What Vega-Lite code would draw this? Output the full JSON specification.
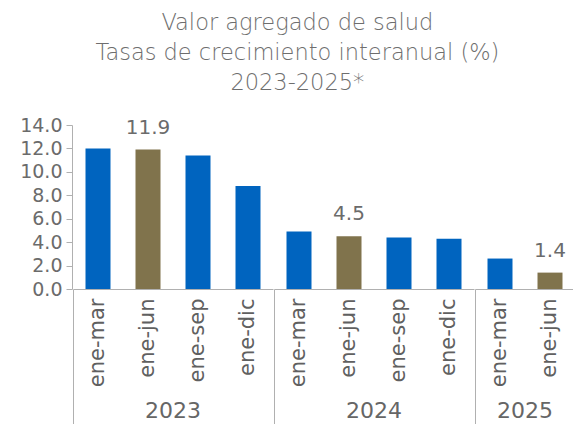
{
  "$schema": "https://vega.github.io/schema/vega-lite/v6.json",
  "padding": {"left": 19, "top": 11, "right": 0, "bottom": 0},
  "background": "white",
  "title": {
    "text": ["Valor agregado de salud", "Tasas de crecimiento interanual (%)", "2023-2025*"],
    "fontSize": 22.5,
    "fontWeight": 200,
    "color": "#6e6e6e",
    "lineHeight": 30,
    "anchor": "middle",
    "frame": "bounds",
    "offset": 22,
    "font": "DejaVu Sans"
  },
  "data": {
    "values": [
      {"year": "2023", "periodo": "ene-mar", "valor": 12.0, "tipo": "normal"},
      {"year": "2023", "periodo": "ene-jun", "valor": 11.9, "tipo": "destacado"},
      {"year": "2023", "periodo": "ene-sep", "valor": 11.4, "tipo": "normal"},
      {"year": "2023", "periodo": "ene-dic", "valor": 8.8, "tipo": "normal"},
      {"year": "2024", "periodo": "ene-mar", "valor": 4.9, "tipo": "normal"},
      {"year": "2024", "periodo": "ene-jun", "valor": 4.5, "tipo": "destacado"},
      {"year": "2024", "periodo": "ene-sep", "valor": 4.4, "tipo": "normal"},
      {"year": "2024", "periodo": "ene-dic", "valor": 4.3, "tipo": "normal"},
      {"year": "2025", "periodo": "ene-mar", "valor": 2.6, "tipo": "normal"},
      {"year": "2025", "periodo": "ene-jun", "valor": 1.4, "tipo": "destacado"}
    ]
  },
  "facet": {
    "column": {
      "field": "year",
      "type": "ordinal",
      "header": {
        "title": null,
        "labelOrient": "bottom",
        "labelFontSize": 22,
        "labelColor": "#666666",
        "labelFont": "DejaVu Sans",
        "labelPadding": -24
      }
    }
  },
  "spacing": 0,
  "spec": {
    "width": {"step": 50},
    "height": 164,
    "encoding": {
      "x": {
        "field": "periodo",
        "type": "nominal",
        "sort": ["ene-mar", "ene-jun", "ene-sep", "ene-dic"],
        "scale": {"paddingInner": 0, "paddingOuter": 0},
        "axis": {
          "title": null,
          "labelAngle": -90,
          "labelAlign": "right",
          "labelBaseline": "middle",
          "labelFontSize": 21,
          "labelColor": "#606060",
          "labelFont": "DejaVu Sans",
          "bandPosition": 0,
          "tickSize": 135,
          "labelPadding": -126,
          "tickColor": {"condition": {"test": "datum.value === 'ene-mar'", "value": "#b0b0b0"}, "value": "transparent"},
          "domainColor": "#b0b0b0"
        }
      },
      "y": {
        "field": "valor",
        "type": "quantitative",
        "scale": {"domain": [0, 14]},
        "axis": {
          "title": null,
          "values": [0, 2, 4, 6, 8, 10, 12, 14],
          "format": ".1f",
          "grid": false,
          "labelFontSize": 19,
          "labelColor": "#6b6b6b",
          "labelFont": "DejaVu Sans",
          "tickSize": 6,
          "labelPadding": 4,
          "tickColor": "#b0b0b0",
          "domainColor": "#b0b0b0"
        }
      }
    },
    "layer": [
      {
        "mark": {"type": "bar", "width": {"band": 0.5}},
        "encoding": {
          "color": {
            "field": "tipo",
            "type": "nominal",
            "scale": {"domain": ["normal", "destacado"], "range": ["#0064BF", "#80734C"]},
            "legend": null
          }
        }
      },
      {
        "transform": [{"filter": "datum.tipo === 'destacado'"}],
        "mark": {"type": "text", "dy": -22, "fontSize": 20, "fontWeight": "normal", "color": "#6b6b6b", "font": "DejaVu Sans"},
        "encoding": {
          "text": {"field": "valor", "type": "quantitative", "format": ".1f"}
        }
      }
    ]
  },
  "resolve": {"scale": {"x": "independent"}},
  "config": {"view": {"stroke": null}}
}
